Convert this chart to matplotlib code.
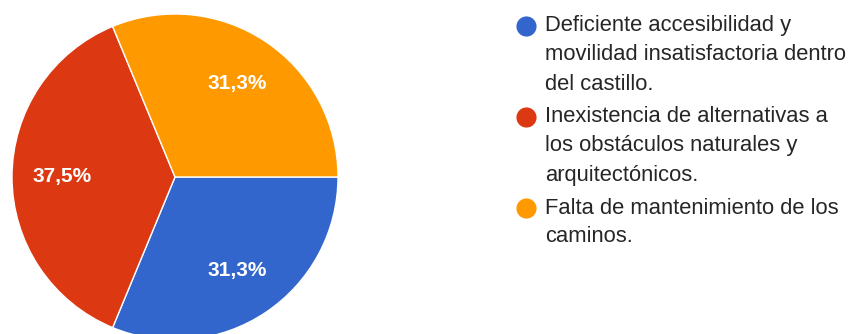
import matplotlib.pyplot as plt
from decimal import Decimal, ROUND_HALF_UP

plt.switch_backend('Agg')
plt.rcParams['font.family'] = ['Liberation Sans', 'DejaVu Sans']

W, H = 848, 334

# survey answers (share of responses)
labels = [
    'Deficiente accesibilidad y\nmovilidad insatisfactoria dentro\ndel castillo.',
    'Inexistencia de alternativas a\nlos obstáculos naturales y\narquitectónicos.',
    'Falta de mantenimiento de los\ncaminos.',
]
shares = [31.25, 37.5, 31.25]
colors = ['#3366CC', '#DC3912', '#FF9900']


def pct_label(p):
    # round half up, decimal comma
    q = Decimal(str(round(float(p), 6))).quantize(Decimal('0.1'), ROUND_HALF_UP)
    return '{0}%'.format(q).replace('.', ',')


fig = plt.figure(figsize=(W / 100, H / 100), dpi=100)

# pie axes: centre (175, 177) px from top-left, radius 163 px
cx, cy, r = 175, 177, 163
ax = fig.add_axes([(cx - r) / W, (H - cy - r) / H, 2 * r / W, 2 * r / H])
wedges, texts, autotexts = ax.pie(
    shares, colors=colors, startangle=0, counterclock=False,
    autopct=pct_label, pctdistance=0.69,
    wedgeprops=dict(edgecolor='white', linewidth=1.0),
    textprops=dict(color='white', fontsize=15, fontweight='bold'))
ax.set_xlim(-1, 1)
ax.set_ylim(-1, 1)
ax.set_aspect('equal')
ax.axis('off')

# legend on the right, pixel coordinates
lax = fig.add_axes([0, 0, 1, 1])
lax.set_xlim(0, W)
lax.set_ylim(H, 0)
lax.axis('off')

line_y = 26
pitch = 29
entry_gap = 4
for label, color in zip(labels, colors):
    lax.plot(526, line_y, marker='o', markersize=14.5, color=color,
             markeredgewidth=0)
    for line in label.split('\n'):
        lax.text(545, line_y, line, fontsize=15.8, color='#262626',
                 va='center', ha='left')
        line_y += pitch
    line_y += entry_gap

fig.savefig('out.png', dpi=100)
